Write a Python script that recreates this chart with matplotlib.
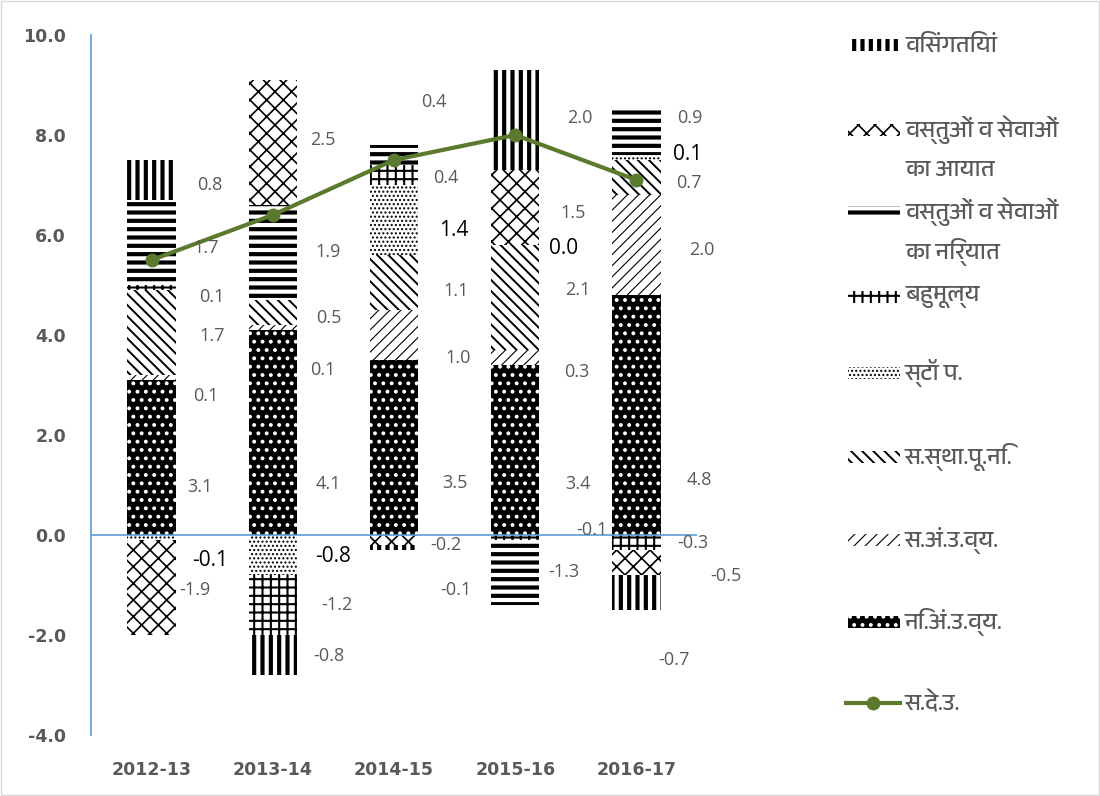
import matplotlib
matplotlib.use("Agg")
import matplotlib.pyplot as plt
from matplotlib.patches import Rectangle
from matplotlib.lines import Line2D
from matplotlib import font_manager as fm
from matplotlib.ft2font import FT2Font
import numpy as np

# ---------------- data ----------------
years = ["2012-13", "2013-14", "2014-15", "2015-16", "2016-17"]
series_names = ["नि.अं.उ.व्य.", "स.अं.उ.व्य.", "स.स्था.पू.नि.", "स्टॉ प.", "बहुमूल्य",
                "वस्तुओं व सेवाओं\nका निर्यात", "वस्तुओं व सेवाओं\nका आयात", "विसंगतियां"]
pfce = [3.1, 4.1, 3.5, 3.4, 4.8]
gfce = [0.1, 0.1, 1.0, 0.3, 2.0]
gfcf = [1.7, 0.5, 1.1, 2.1, 0.7]
stocks = [-0.1, -0.8, 1.4, 0.0, 0.1]
valuables = [0.1, -1.2, 0.4, -0.1, -0.3]
exports = [1.7, 1.9, 0.4, -1.3, 0.9]
imports = [-1.9, 2.5, -0.2, 1.5, -0.5]
discrepancies = [0.8, -0.8, -0.1, 2.0, -0.7]
gdp_name = "स.दे.उ."
gdp = [5.5, 6.4, 7.5, 8.0, 7.1]
yticks = [-4.0, -2.0, 0.0, 2.0, 4.0, 6.0, 8.0, 10.0]

series_vals = [pfce, gfce, gfcf, stocks, valuables, exports, imports, discrepancies]

# ---------------- style ----------------
# (facecolor, hatch colour, hatch, hatch linewidth)
styles = [
    ("black", "white", "..", 1.6),
    ("white", "black", "///", 0.8),
    ("white", "black", "\\\\\\", 1.4),
    ("white", "black", "....", 1.0),
    ("white", "black", "++", 1.5),
    ("white", "black", "--", 3.0),
    ("white", "black", "xx", 1.2),
    ("white", "black", "||", 3.0),
]
emph_series = 3  # labels of this series drawn larger, black

# label placement: horizontal offset (category units) and vertical position (data units)
label_dx = [
    [0.40, 0.46, 0.50, 0.52, 0.52],
    [0.45, 0.41, 0.53, 0.51, 0.54],
    [0.50, 0.46, 0.51, 0.52, 0.43],
    [0.48, 0.50, 0.49, 0.40, 0.42],
    [0.50, 0.53, 0.43, 0.63, 0.47],
    [0.45, 0.46, 0.33, 0.40, 0.44],
    [0.36, 0.41, 0.43, 0.48, 0.74],
    [0.48, 0.46, 0.51, 0.53, 0.31],
]
label_y = [
    [0.96, 1.02, 1.04, 1.02, 1.10],
    [2.78, 3.30, 3.54, 3.26, 5.70],
    [3.98, 4.34, 4.88, 4.90, 7.04],
    [-0.50, -0.42, 6.10, 5.74, 7.60],
    [4.76, -1.40, 7.14, 0.10, -0.16],
    [5.74, 5.66, 8.66, -0.74, 8.34],
    [-1.10, 7.90, -0.20, 6.44, -0.82],
    [7.00, -2.42, -1.10, 8.34, -2.50],
]


def find_deva_font():
    cands = []
    for f in fm.fontManager.ttflist:
        pri = 0 if "Devanagari" in f.name else 1
        cands.append((pri, f.name, f.fname))
    cands.sort()
    for pri, name, fname in cands:
        try:
            if 0x0915 in FT2Font(fname).get_charmap():
                return name
        except Exception:
            pass
    return None


deva = find_deva_font()
deva_family = [deva, "DejaVu Sans"] if deva else ["DejaVu Sans"]

GRAY = "#595959"
AXIS_BLUE = "#5B9BD5"
LINE_GREEN = "#5B7A2E"

plt.rcParams["hatch.linewidth"] = 1.2

fig = plt.figure(figsize=(11, 7.96), dpi=100)
ax = fig.add_axes([91 / 1100, 61 / 796, 606 / 1100, 700 / 796])

x = np.arange(len(years))
pos_base = np.zeros(len(years))
neg_base = np.zeros(len(years))
width = 0.4

for i, vals in enumerate(series_vals):
    v = np.array(vals)
    bottoms = np.where(v >= 0, pos_base, neg_base)
    fc, hc, hatch, hlw = styles[i]
    bars = ax.bar(x, v, width=width, bottom=bottoms, facecolor=fc, edgecolor=hc,
                  hatch=hatch, linewidth=0, zorder=2)
    for b in bars:
        try:
            b.set_hatch_linewidth(hlw)
        except Exception:
            pass
    for j in range(len(years)):
        emph = (i == emph_series)
        ax.text(x[j] + label_dx[i][j], label_y[i][j], f"{v[j]:.1f}",
                ha="center", va="center",
                fontsize=15 if emph else 13,
                color="black" if emph else GRAY,
                family=["Open Sans", "DejaVu Sans"], clip_on=False, zorder=5)
    pos_base = pos_base + np.where(v >= 0, v, 0)
    neg_base = neg_base + np.where(v < 0, v, 0)

ax.plot(x, gdp, color=LINE_GREEN, lw=3, marker="o", ms=9, zorder=4)

ax.set_xlim(-0.5, len(years) - 0.5)
ax.set_ylim(-4, 10)
ax.axhline(0, color=AXIS_BLUE, lw=1.2, zorder=3)
for s in ["top", "right", "bottom"]:
    ax.spines[s].set_visible(False)
ax.spines["left"].set_color(AXIS_BLUE)
ax.spines["left"].set_linewidth(1.2)
ax.set_yticks(yticks)
ax.set_yticklabels([f"{t:.1f}" for t in yticks], fontsize=12.5, fontweight="bold",
                   color=GRAY, family="DejaVu Sans")
ax.tick_params(axis="y", length=0, pad=18)
ax.set_xticks(x)
ax.set_xticklabels(years, fontsize=12.5, fontweight="bold", color=GRAY, family="DejaVu Sans")
ax.tick_params(axis="x", length=0, pad=19)
ax.patch.set_alpha(0)

# ---------------- legend (manual) ----------------
def fpx(px, py):
    return px / 1100, 1 - py / 796

LEG_FS = 17
legend_order = [7, 6, 5, 4, 3, 2, 1, 0]
legend_y = [45, 130, 212, 297, 373, 457, 540, 622]
for idx, ly in zip(legend_order, legend_y):
    fc, hc, hatch, hlw = styles[idx]
    x0, y0 = fpx(848, ly + 6)
    w = 52 / 1100
    h = 12 / 796
    r = Rectangle((x0, y0), w, h, transform=fig.transFigure, facecolor=fc,
                  edgecolor=hc, hatch=hatch, linewidth=0)
    try:
        r.set_hatch_linewidth(hlw)
    except Exception:
        pass
    fig.add_artist(r)
    name = series_names[idx]
    for k, line in enumerate(name.split("\n")):
        tx, ty = fpx(905, ly + 40 * k)
        fig.text(tx, ty, line, ha="left", va="center", fontsize=LEG_FS, color=GRAY,
                 family=deva_family)

lx0, ly0 = fpx(846, 703)
lx1, _ = fpx(900, 703)
fig.add_artist(Line2D([lx0, lx1], [ly0, ly0], transform=fig.transFigure, color=LINE_GREEN, lw=3))
fig.add_artist(Line2D([(lx0 + lx1) / 2], [ly0], transform=fig.transFigure, color=LINE_GREEN,
                      marker="o", ms=9))
tx, ty = fpx(905, 703)
fig.text(tx, ty, gdp_name, ha="left", va="center", fontsize=LEG_FS, color=GRAY, family=deva_family)

fig.add_artist(Rectangle((0.001, 0.001), 0.998, 0.998, transform=fig.transFigure,
                         fill=False, edgecolor="#D9D9D9", lw=1))

fig.savefig("out.png", dpi=100)
